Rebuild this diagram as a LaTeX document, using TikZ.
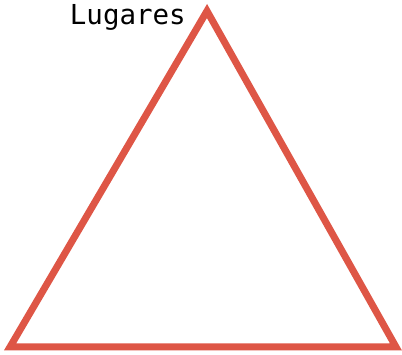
\documentclass[tikz,border=0pt]{standalone}
\usepackage{fontspec}
\setmonofont{DejaVu Sans Mono}
\usetikzlibrary{positioning}
\definecolor{trired}{RGB}{222,86,70}
\tikzset{
  triedge/.style={trired, line width=7pt, line join=miter},
  tlab/.style={font=\ttfamily\fontsize{27.5}{29}\selectfont, inner sep=0pt},
}
\begin{document}
\begin{tikzpicture}[x=1pt,y=1pt]
\useasboundingbox (0,0) rectangle (402,355);
\coordinate (apex) at (207,344);
\coordinate (bl) at (10,8);
\coordinate (br) at (396,8);
\draw[triedge] (apex) -- (br) -- (bl) -- cycle;
\node[tlab, anchor=east] (lugares) at (186,338) {Lugares};
\end{tikzpicture}
\end{document}
